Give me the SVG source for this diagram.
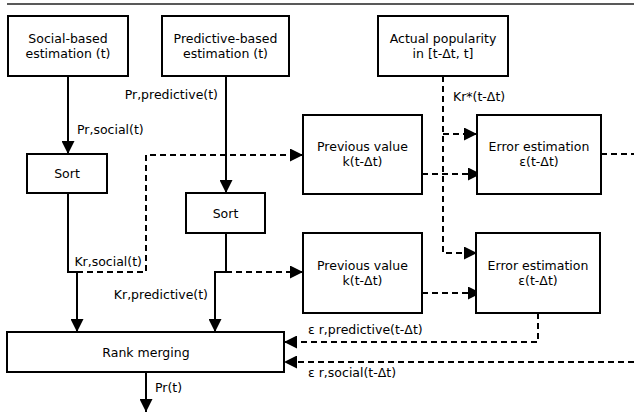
<svg xmlns="http://www.w3.org/2000/svg" width="634" height="415" viewBox="0 0 634 415">
<style>
  .box { fill: #fff; stroke: #000; stroke-width: 2; }
  .t { font-family: "DejaVu Sans", "Liberation Sans", sans-serif; font-size: 12.5px; fill: #000; }
  .c { text-anchor: middle; }
  .solid { fill: none; stroke: #000; stroke-width: 2; }
  .dash { fill: none; stroke: #000; stroke-width: 2; stroke-dasharray: 6 4; }
</style>
<defs>
  <marker id="ah" markerUnits="userSpaceOnUse" markerWidth="13" markerHeight="13" refX="13" refY="6.5" orient="auto">
    <path d="M0,0 L13,6.5 L0,13 z" fill="#000"/>
  </marker>
</defs>
<rect width="634" height="415" fill="#fff"/>
<line x1="7" y1="4" x2="634" y2="4" stroke="#222" stroke-width="1.5"/>

<g id="connectors">
  <path class="solid" d="M68,76 V154" marker-end="url(#ah)"/>
  <path class="solid" d="M226,76 V193" marker-end="url(#ah)"/>
  <path class="solid" d="M68,193 V272 H77 V332" marker-end="url(#ah)"/>
  <path class="dash" d="M77,272 H146 V155 H303" marker-end="url(#ah)"/>
  <path class="solid" d="M226,233 V272 H215 V332" marker-end="url(#ah)"/>
  <path class="dash" d="M226,272 H303" marker-end="url(#ah)"/>
  <path class="dash" d="M443,76 V253 H477" marker-end="url(#ah)"/>
  <path class="dash" d="M443,134 H477" marker-end="url(#ah)"/>
  <path class="dash" d="M422,174 H481" marker-end="url(#ah)"/>
  <path class="dash" d="M422,293 H481" marker-end="url(#ah)"/>
  <path class="dash" d="M601,154 H634"/>
  <path class="dash" d="M538,313 V342 H284" marker-end="url(#ah)"/>
  <path class="dash" d="M634,362 H284" marker-end="url(#ah)"/>
  <text class="t" x="77" y="134">Pr,social(t)</text>
  <text class="t" x="218" y="99" text-anchor="end">Pr,predictive(t)</text>
  <text class="t" x="142" y="266" text-anchor="end">Kr,social(t)</text>
  <text class="t" x="208" y="299" text-anchor="end">Kr,predictive(t)</text>
  <text class="t" x="453" y="101">Kr*(t-Δt)</text>
  <text class="t" x="308" y="334">ε r,predictive(t-Δt)</text>
  <text class="t" x="308" y="377">ε r,social(t-Δt)</text>
  <text class="t" x="155" y="392">Pr(t)</text>
</g>

<g id="social-est">
  <rect class="box" x="8" y="16" width="120" height="60"/>
  <text class="t c" x="68" y="43">Social-based</text>
  <text class="t c" x="68" y="58">estimation (t)</text>
</g>
<g id="predictive-est">
  <rect class="box" x="162" y="16" width="127" height="60"/>
  <text class="t c" x="225.5" y="43">Predictive-based</text>
  <text class="t c" x="225.5" y="58">estimation (t)</text>
</g>
<g id="actual-pop">
  <rect class="box" x="378" y="16" width="130" height="60"/>
  <text class="t c" x="443" y="43">Actual popularity</text>
  <text class="t c" x="443" y="58">in [t-Δt, t]</text>
</g>
<g id="sort1">
  <rect class="box" x="27" y="154" width="80" height="39"/>
  <text class="t c" x="67" y="178">Sort</text>
</g>
<g id="sort2">
  <rect class="box" x="186" y="193" width="79" height="40"/>
  <text class="t c" x="225.5" y="217.5">Sort</text>
</g>
<g id="prev1">
  <rect class="box" x="303" y="115" width="119" height="79"/>
  <text class="t c" x="362.5" y="151">Previous value</text>
  <text class="t c" x="362.5" y="166">k(t-Δt)</text>
</g>
<g id="err1">
  <rect class="box" x="477" y="115" width="124" height="79"/>
  <text class="t c" x="539" y="151">Error estimation</text>
  <text class="t c" x="539" y="166">ε(t-Δt)</text>
</g>
<g id="prev2">
  <rect class="box" x="303" y="233" width="119" height="80"/>
  <text class="t c" x="362.5" y="270">Previous value</text>
  <text class="t c" x="362.5" y="285">k(t-Δt)</text>
</g>
<g id="err2">
  <rect class="box" x="476" y="233" width="124" height="80"/>
  <text class="t c" x="538" y="270">Error estimation</text>
  <text class="t c" x="538" y="285">ε(t-Δt)</text>
</g>
<g id="rank-merging">
  <rect class="box" x="7" y="332" width="277" height="40"/>
  <text class="t c" x="146" y="356.5">Rank merging</text>
</g>
<g id="output">
  <path class="solid" d="M146,372 V412" marker-end="url(#ah)"/>
</g>
</svg>
